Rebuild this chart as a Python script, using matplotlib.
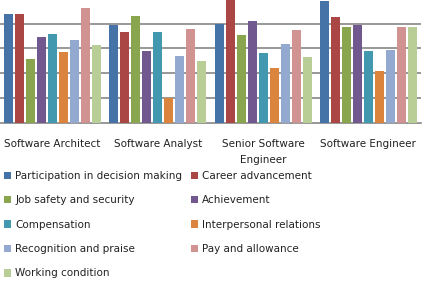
import numpy as np
import matplotlib.pyplot as plt

# job roles on the x axis
roles = ["Software Architect", "Software Analyst", "Senior Software\nEngineer", "Software Engineer"]

factors = ["Participation in decision making", "Career advancement",
           "Job safety and security", "Achievement",
           "Compensation", "Interpersonal relations",
           "Recognition and praise", "Pay and allowance",
           "Working condition"]

# scores per factor, one value per role
participation = [4.38, 3.93, 3.99, 4.91]
career = [4.38, 3.65, 5.10, 4.26]
job_safety = [2.59, 4.30, 3.53, 3.85]
achievement = [3.45, 2.88, 4.09, 3.93]
compensation = [3.57, 3.65, 2.80, 2.88]
interpersonal = [2.84, 0.99, 2.19, 2.07]
recognition = [3.32, 2.68, 3.16, 2.92]
pay = [4.62, 3.77, 3.73, 3.85]
working = [3.12, 2.51, 2.64, 3.85]

series = [participation, career, job_safety, achievement, compensation,
          interpersonal, recognition, pay, working]

colors = ["#4572A7", "#AA4643", "#89A54E", "#71588F", "#4198AF",
          "#DB843D", "#93A9CF", "#D19392", "#B9CD96"]

fig = plt.figure(figsize=(4.23, 2.82), dpi=100)
ax = fig.add_axes([0, 1 - 122.5 / 282, 421 / 423, 122.5 / 282])

x = np.arange(len(roles))
pitch = 11 / 105.25
width = 9 / 105.25
bars = []
for i, (vals, c) in enumerate(zip(series, colors)):
    b = ax.bar(x + (i - 4) * pitch, vals, width, color=c, label=factors[i], zorder=3)
    bars.append(b)

ax.set_xlim(-0.5, 3.5)
ax.set_ylim(0, 122.5 / 24.7)
ax.set_yticks([1, 2, 3, 4])
ax.yaxis.grid(True, color="#868686", linewidth=1.2, zorder=0)
ax.tick_params(left=False, labelleft=False, bottom=False)
for s in ["left", "right", "top"]:
    ax.spines[s].set_visible(False)
ax.spines["bottom"].set_color("#868686")
ax.spines["bottom"].set_linewidth(1.2)

ax.set_xticks(x)
ax.set_xticklabels(roles, fontsize=7.5, color="#222222", linespacing=1.75)
ax.tick_params(axis="x", pad=8.5)

# legend goes row by row like the original, so reorder for matplotlib's column fill
order = [0, 2, 4, 6, 8, 1, 3, 5, 7]
fig.legend([bars[i] for i in order], [factors[i] for i in order],
           loc="upper left", bbox_to_anchor=(4 / 423, 1 - 171 / 282), ncol=2,
           frameon=False, fontsize=7.5, handlelength=0.7, handleheight=0.7,
           handletextpad=0.4, columnspacing=0.8, labelspacing=1.38,
           borderaxespad=0, borderpad=0, labelcolor="#222222")

fig.savefig("out.png", dpi=100)
